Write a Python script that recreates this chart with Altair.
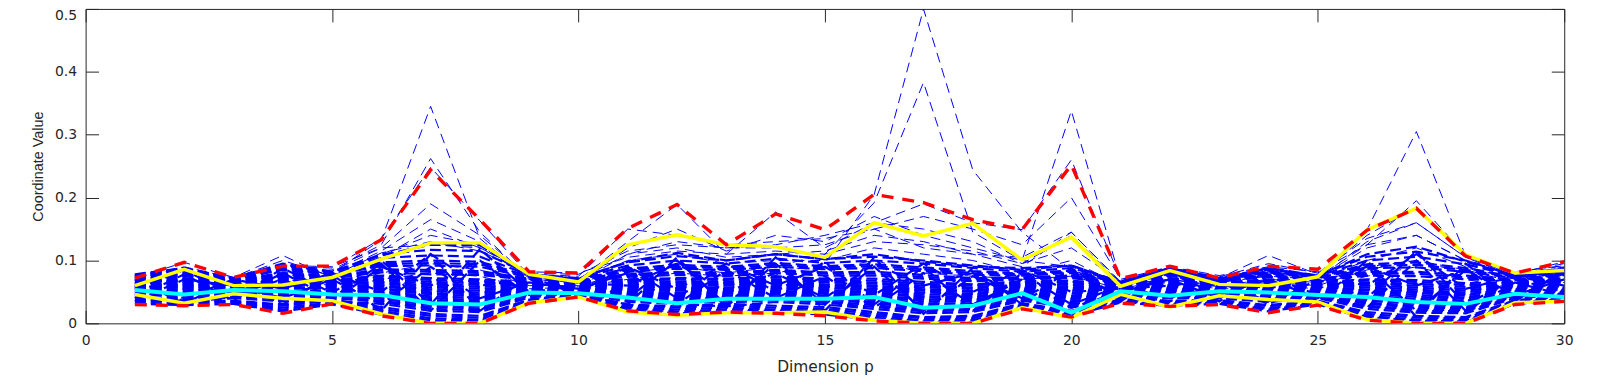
import altair as alt
import pandas as pd

dims = list(range(1, 31))

# dense core of the parallel-coordinate lines
core_lines = [
    [0.031,0.029,0.031,0.019,0.030,0.014,0.002,0.001,0.033,0.043,0.021,0.016,0.019,0.018,0.014,0.006,0.001,0.002,0.024,0.012,0.033,0.028,0.031,0.019,0.030,0.007,0.001,0.002,0.031,0.036],
    [0.033,0.031,0.032,0.022,0.032,0.017,0.005,0.004,0.034,0.044,0.024,0.019,0.022,0.020,0.017,0.009,0.003,0.005,0.026,0.014,0.034,0.030,0.033,0.022,0.032,0.010,0.004,0.003,0.033,0.038],
    [0.034,0.036,0.033,0.025,0.033,0.020,0.008,0.006,0.035,0.045,0.026,0.022,0.025,0.022,0.020,0.012,0.005,0.008,0.028,0.016,0.035,0.032,0.034,0.024,0.033,0.012,0.006,0.005,0.034,0.040],
    [0.036,0.038,0.035,0.028,0.036,0.023,0.012,0.009,0.037,0.046,0.028,0.025,0.028,0.025,0.023,0.015,0.008,0.010,0.030,0.018,0.037,0.034,0.036,0.027,0.035,0.015,0.009,0.008,0.036,0.042],
    [0.038,0.033,0.036,0.030,0.038,0.026,0.015,0.012,0.038,0.047,0.030,0.027,0.031,0.028,0.026,0.018,0.010,0.012,0.032,0.020,0.038,0.036,0.037,0.029,0.036,0.018,0.012,0.010,0.037,0.043],
    [0.041,0.040,0.040,0.035,0.035,0.031,0.020,0.018,0.041,0.049,0.034,0.031,0.027,0.034,0.030,0.023,0.016,0.018,0.036,0.025,0.041,0.040,0.040,0.034,0.040,0.023,0.017,0.016,0.040,0.045],
    [0.043,0.037,0.042,0.038,0.040,0.034,0.023,0.021,0.043,0.050,0.036,0.034,0.033,0.037,0.033,0.026,0.019,0.021,0.038,0.028,0.043,0.042,0.042,0.037,0.042,0.026,0.020,0.019,0.042,0.047],
    [0.044,0.045,0.043,0.040,0.042,0.036,0.026,0.024,0.044,0.051,0.038,0.036,0.036,0.039,0.035,0.029,0.021,0.023,0.040,0.030,0.044,0.044,0.043,0.039,0.043,0.028,0.022,0.021,0.043,0.048],
    [0.046,0.048,0.045,0.043,0.044,0.039,0.029,0.027,0.046,0.052,0.040,0.038,0.038,0.041,0.038,0.032,0.024,0.026,0.042,0.033,0.046,0.046,0.045,0.042,0.045,0.031,0.025,0.024,0.045,0.050],
    [0.047,0.042,0.047,0.045,0.046,0.041,0.031,0.029,0.047,0.053,0.042,0.040,0.040,0.043,0.040,0.034,0.027,0.028,0.044,0.035,0.047,0.048,0.046,0.044,0.046,0.033,0.028,0.026,0.046,0.051],
    [0.049,0.047,0.049,0.048,0.048,0.044,0.034,0.032,0.049,0.054,0.044,0.043,0.042,0.046,0.042,0.037,0.030,0.030,0.046,0.038,0.049,0.050,0.048,0.046,0.048,0.036,0.031,0.029,0.048,0.053],
    [0.050,0.050,0.050,0.050,0.050,0.046,0.037,0.034,0.050,0.055,0.046,0.045,0.044,0.048,0.044,0.040,0.032,0.032,0.048,0.040,0.050,0.052,0.049,0.048,0.049,0.038,0.033,0.031,0.049,0.054],
    [0.052,0.053,0.051,0.052,0.052,0.049,0.040,0.037,0.052,0.056,0.048,0.047,0.047,0.050,0.047,0.043,0.035,0.035,0.050,0.042,0.052,0.054,0.051,0.051,0.051,0.041,0.036,0.034,0.051,0.056],
    [0.053,0.055,0.052,0.047,0.053,0.051,0.043,0.040,0.053,0.057,0.050,0.049,0.049,0.052,0.049,0.045,0.038,0.037,0.052,0.044,0.053,0.056,0.052,0.053,0.052,0.044,0.039,0.036,0.052,0.057],
    [0.055,0.057,0.054,0.057,0.055,0.054,0.046,0.043,0.055,0.058,0.052,0.052,0.051,0.055,0.051,0.048,0.041,0.040,0.054,0.047,0.054,0.058,0.054,0.055,0.054,0.047,0.042,0.039,0.054,0.059],
    [0.056,0.060,0.055,0.055,0.057,0.056,0.048,0.046,0.056,0.059,0.054,0.054,0.053,0.057,0.053,0.050,0.043,0.042,0.055,0.049,0.055,0.059,0.055,0.057,0.055,0.049,0.045,0.041,0.055,0.060],
    [0.058,0.063,0.057,0.062,0.059,0.059,0.051,0.049,0.057,0.060,0.056,0.056,0.055,0.059,0.056,0.053,0.046,0.045,0.057,0.052,0.056,0.061,0.057,0.059,0.057,0.052,0.048,0.044,0.057,0.062],
    [0.059,0.058,0.058,0.060,0.060,0.061,0.054,0.052,0.058,0.061,0.058,0.058,0.057,0.061,0.058,0.055,0.049,0.047,0.058,0.054,0.057,0.062,0.058,0.061,0.058,0.054,0.051,0.046,0.058,0.063],
    [0.061,0.061,0.060,0.066,0.062,0.064,0.057,0.055,0.060,0.062,0.060,0.061,0.060,0.064,0.060,0.058,0.052,0.050,0.060,0.056,0.058,0.064,0.060,0.063,0.060,0.057,0.054,0.049,0.060,0.065],
    [0.062,0.065,0.061,0.064,0.063,0.066,0.060,0.058,0.061,0.063,0.062,0.063,0.062,0.066,0.062,0.060,0.054,0.052,0.061,0.058,0.059,0.066,0.061,0.064,0.061,0.060,0.057,0.052,0.061,0.066],
    [0.064,0.068,0.062,0.070,0.065,0.069,0.063,0.061,0.063,0.064,0.064,0.065,0.064,0.068,0.065,0.063,0.057,0.055,0.063,0.061,0.060,0.068,0.062,0.066,0.062,0.063,0.060,0.055,0.063,0.068],
    [0.065,0.070,0.063,0.068,0.066,0.071,0.066,0.064,0.064,0.064,0.066,0.067,0.066,0.070,0.067,0.065,0.060,0.057,0.064,0.063,0.061,0.069,0.063,0.067,0.063,0.065,0.063,0.058,0.064,0.069],
    [0.067,0.072,0.064,0.074,0.068,0.074,0.069,0.067,0.065,0.065,0.068,0.070,0.069,0.073,0.069,0.068,0.063,0.060,0.066,0.066,0.061,0.071,0.064,0.069,0.065,0.068,0.066,0.061,0.065,0.071],
    [0.068,0.067,0.065,0.072,0.069,0.076,0.072,0.070,0.066,0.066,0.070,0.072,0.071,0.075,0.071,0.071,0.066,0.062,0.067,0.068,0.062,0.072,0.065,0.070,0.066,0.070,0.069,0.064,0.066,0.072],
    [0.070,0.075,0.067,0.076,0.072,0.081,0.078,0.077,0.069,0.067,0.074,0.077,0.075,0.080,0.076,0.076,0.071,0.067,0.070,0.072,0.063,0.075,0.067,0.074,0.068,0.076,0.075,0.070,0.068,0.075],
    [0.071,0.077,0.068,0.078,0.073,0.084,0.082,0.080,0.070,0.068,0.076,0.080,0.078,0.083,0.079,0.079,0.074,0.070,0.072,0.074,0.064,0.077,0.068,0.076,0.069,0.079,0.079,0.073,0.069,0.077],
    [0.072,0.079,0.069,0.080,0.075,0.086,0.085,0.083,0.071,0.068,0.078,0.082,0.080,0.085,0.081,0.082,0.077,0.072,0.073,0.076,0.064,0.078,0.068,0.077,0.070,0.082,0.082,0.076,0.070,0.078],
    [0.074,0.082,0.070,0.085,0.077,0.091,0.092,0.090,0.073,0.069,0.082,0.087,0.085,0.090,0.086,0.088,0.083,0.077,0.076,0.080,0.065,0.081,0.069,0.080,0.072,0.088,0.089,0.082,0.072,0.080],
    [0.075,0.084,0.070,0.087,0.078,0.094,0.096,0.094,0.074,0.070,0.085,0.090,0.088,0.093,0.089,0.091,0.086,0.080,0.078,0.082,0.065,0.083,0.070,0.082,0.073,0.091,0.093,0.085,0.073,0.082],
    [0.076,0.085,0.071,0.089,0.079,0.097,0.100,0.098,0.075,0.070,0.087,0.093,0.090,0.096,0.091,0.094,0.089,0.083,0.079,0.084,0.066,0.084,0.070,0.083,0.074,0.094,0.097,0.088,0.074,0.083],
    [0.077,0.087,0.072,0.092,0.081,0.104,0.108,0.106,0.077,0.071,0.092,0.100,0.095,0.103,0.096,0.100,0.095,0.088,0.082,0.088,0.066,0.086,0.071,0.086,0.075,0.100,0.106,0.094,0.075,0.085],
    [0.078,0.088,0.072,0.095,0.082,0.110,0.117,0.115,0.078,0.072,0.097,0.107,0.100,0.110,0.102,0.106,0.100,0.092,0.085,0.092,0.066,0.088,0.072,0.088,0.076,0.106,0.114,0.100,0.076,0.087],
    [0.076,0.088,0.071,0.093,0.082,0.108,0.125,0.124,0.078,0.071,0.098,0.112,0.100,0.110,0.102,0.110,0.098,0.090,0.088,0.092,0.065,0.088,0.071,0.087,0.076,0.110,0.122,0.098,0.076,0.088],
    [0.040,0.078,0.036,0.088,0.048,0.100,0.030,0.118,0.050,0.060,0.090,0.040,0.095,0.050,0.098,0.030,0.090,0.020,0.080,0.030,0.060,0.040,0.068,0.030,0.070,0.040,0.115,0.030,0.070,0.050],
    [0.070,0.032,0.068,0.030,0.078,0.020,0.110,0.020,0.075,0.045,0.030,0.105,0.025,0.105,0.020,0.105,0.015,0.088,0.030,0.088,0.035,0.085,0.035,0.085,0.035,0.100,0.010,0.095,0.035,0.085],
    [0.055,0.085,0.045,0.070,0.035,0.090,0.060,0.100,0.040,0.065,0.060,0.095,0.050,0.080,0.040,0.095,0.060,0.080,0.045,0.085,0.040,0.080,0.045,0.070,0.040,0.090,0.060,0.085,0.040,0.080],
    [0.060,0.040,0.070,0.055,0.080,0.050,0.110,0.060,0.070,0.050,0.090,0.055,0.095,0.060,0.090,0.045,0.095,0.050,0.085,0.050,0.055,0.060,0.070,0.055,0.075,0.060,0.110,0.055,0.075,0.060],
    [0.035,0.070,0.060,0.040,0.070,0.030,0.090,0.040,0.065,0.055,0.080,0.030,0.085,0.040,0.075,0.025,0.080,0.030,0.070,0.025,0.050,0.070,0.040,0.075,0.045,0.025,0.100,0.020,0.065,0.045],
    [0.065,0.035,0.040,0.080,0.040,0.095,0.020,0.100,0.045,0.070,0.040,0.100,0.030,0.095,0.030,0.090,0.020,0.075,0.040,0.080,0.045,0.035,0.065,0.035,0.065,0.090,0.020,0.085,0.045,0.070],
]

# sparse lines that stick out of the core
outlier_lines = [
    [0.045,0.055,0.050,0.060,0.055,0.070,0.080,0.075,0.055,0.058,0.070,0.080,0.075,0.080,0.095,0.205,0.500,0.244,0.145,0.085,0.060,0.065,0.055,0.060,0.055,0.075,0.090,0.070,0.055,0.065],
    [0.055,0.065,0.055,0.070,0.060,0.080,0.095,0.085,0.060,0.060,0.080,0.090,0.080,0.090,0.110,0.192,0.383,0.145,0.100,0.090,0.062,0.070,0.058,0.065,0.060,0.085,0.100,0.080,0.060,0.070],
    [0.060,0.070,0.060,0.075,0.080,0.133,0.345,0.135,0.070,0.065,0.085,0.095,0.085,0.090,0.085,0.100,0.080,0.075,0.070,0.075,0.055,0.070,0.060,0.070,0.065,0.090,0.100,0.085,0.065,0.075],
    [0.065,0.075,0.065,0.080,0.085,0.125,0.262,0.145,0.072,0.068,0.100,0.110,0.095,0.100,0.100,0.120,0.110,0.100,0.080,0.100,0.060,0.078,0.065,0.075,0.070,0.100,0.120,0.090,0.070,0.080],
    [0.070,0.080,0.068,0.090,0.088,0.135,0.248,0.163,0.076,0.070,0.110,0.120,0.105,0.110,0.115,0.140,0.130,0.110,0.090,0.145,0.065,0.085,0.068,0.080,0.072,0.120,0.140,0.100,0.072,0.085],
    [0.068,0.078,0.070,0.085,0.083,0.120,0.190,0.140,0.074,0.069,0.130,0.189,0.110,0.177,0.120,0.160,0.150,0.130,0.095,0.140,0.063,0.080,0.066,0.078,0.070,0.130,0.160,0.105,0.074,0.082],
    [0.062,0.072,0.066,0.082,0.079,0.115,0.165,0.130,0.072,0.066,0.120,0.150,0.115,0.140,0.130,0.170,0.140,0.120,0.100,0.338,0.068,0.082,0.070,0.082,0.074,0.125,0.195,0.108,0.075,0.090],
    [0.058,0.068,0.062,0.078,0.075,0.110,0.140,0.125,0.070,0.066,0.110,0.130,0.120,0.125,0.140,0.160,0.190,0.160,0.149,0.260,0.070,0.086,0.067,0.085,0.076,0.140,0.185,0.106,0.078,0.092],
    [0.072,0.097,0.073,0.108,0.072,0.105,0.150,0.120,0.078,0.075,0.150,0.140,0.125,0.130,0.135,0.150,0.170,0.150,0.125,0.200,0.070,0.090,0.072,0.108,0.078,0.149,0.305,0.107,0.078,0.098],
    [0.070,0.090,0.072,0.100,0.075,0.112,0.130,0.115,0.080,0.078,0.115,0.125,0.120,0.120,0.125,0.150,0.120,0.110,0.105,0.145,0.066,0.088,0.074,0.095,0.080,0.135,0.160,0.105,0.080,0.095],
    [0.075,0.085,0.070,0.092,0.090,0.120,0.125,0.120,0.082,0.080,0.105,0.115,0.110,0.115,0.110,0.130,0.125,0.115,0.095,0.120,0.067,0.090,0.076,0.090,0.082,0.125,0.140,0.100,0.082,0.092],
]

red_upper = [0.072,0.097,0.073,0.091,0.091,0.133,0.244,0.165,0.082,0.080,0.151,0.189,0.125,0.174,0.149,0.205,0.192,0.165,0.149,0.252,0.071,0.091,0.072,0.091,0.086,0.148,0.183,0.107,0.080,0.098]
red_lower = [0.030,0.028,0.030,0.016,0.031,0.012,0.000,0.000,0.032,0.042,0.020,0.014,0.018,0.016,0.012,0.004,0.000,0.000,0.023,0.010,0.032,0.027,0.030,0.017,0.029,0.005,0.000,0.000,0.030,0.035]
yellow_upper = [0.060,0.086,0.060,0.061,0.073,0.102,0.128,0.128,0.078,0.066,0.125,0.141,0.125,0.122,0.105,0.160,0.139,0.159,0.101,0.137,0.059,0.084,0.062,0.060,0.074,0.149,0.183,0.109,0.080,0.084]
yellow_lower = [0.046,0.032,0.047,0.040,0.036,0.015,0.000,0.000,0.033,0.042,0.018,0.013,0.017,0.017,0.018,0.005,0.000,0.000,0.025,0.009,0.046,0.026,0.044,0.038,0.034,0.006,0.000,0.000,0.033,0.035]
cyan_mean = [0.053,0.046,0.053,0.051,0.046,0.045,0.032,0.030,0.049,0.048,0.041,0.032,0.039,0.039,0.039,0.042,0.025,0.028,0.048,0.017,0.051,0.044,0.051,0.049,0.045,0.042,0.034,0.031,0.047,0.042]

x_ticks = [0, 5, 10, 15, 20, 25, 30]
y_ticks = [0, 0.1, 0.2, 0.3, 0.4, 0.5]


def to_long(lines, prefix):
    rows = []
    for i, vals in enumerate(lines):
        for d, v in zip(dims, vals):
            rows.append({"dim": d, "value": v, "line": f"{prefix}{i:02d}"})
    return pd.DataFrame(rows)


core_df = to_long(core_lines, "c")
out_df = to_long(outlier_lines, "o")
stats_df = pd.DataFrame({
    "dim": dims,
    "red_upper": red_upper,
    "red_lower": red_lower,
    "yellow_upper": yellow_upper,
    "yellow_lower": yellow_lower,
    "mean": cyan_mean,
})

AX = "#262626"
LFONT = "DejaVu Sans"
TFONT = "Liberation Sans"
TICK = 13

xscale = alt.Scale(domain=[0, 30], nice=False, zero=False)
yscale = alt.Scale(domain=[0, 0.5], nice=False, zero=False)

x_main = alt.X("dim:Q", scale=xscale, axis=alt.Axis(
    orient="bottom", values=x_ticks, title="Dimension p", offset=-TICK, tickSize=TICK,
    domain=False, grid=False, labelPadding=10, labelFontSize=14, labelFont=LFONT,
    labelColor=AX, tickColor=AX, titleFont=LFONT, titleFontSize=15.5, titleColor=AX,
    titleFontWeight="normal", titlePadding=12, labelFlush=False))
y_main = alt.Y("value:Q", scale=yscale, axis=alt.Axis(
    orient="left", values=y_ticks, format="~g", title="Coordinate Value",
    offset=-TICK, tickSize=TICK, domain=False, grid=False, labelPadding=9,
    labelFontSize=14, labelFont=LFONT, labelColor=AX, tickColor=AX,
    labelBaseline=alt.condition("datum.value >= 0.5", alt.value("top"), alt.value("middle")),
    titleFont=TFONT, titleFontSize=14.5, titleColor=AX,
    titleFontWeight="normal", titlePadding=9, labelFlush=False))

x_top = alt.X("dim:Q", scale=xscale, axis=alt.Axis(
    orient="top", values=x_ticks, title=None, offset=-TICK, tickSize=TICK,
    domain=False, grid=False, labels=False, tickColor=AX))

x_none = alt.X("dim:Q", scale=xscale, axis=None)


def y_none(field):
    return alt.Y(f"{field}:Q", scale=yscale, axis=None)


core = alt.Chart(core_df).mark_line(
    color="#0000FF", strokeWidth=2.2, strokeDash=[11, 5], clip=True
).encode(x=x_main, y=y_main, detail="line:N", order="dim:Q")

outl = alt.Chart(out_df).mark_line(
    color="#0000FF", strokeWidth=1.0, strokeDash=[10, 6], clip=True
).encode(x=x_none, y=y_none("value"), detail="line:N", order="dim:Q")

base = alt.Chart(stats_df)

yel_u = base.mark_line(color="#FFFF00", strokeWidth=3.5, clip=True).encode(
    x=x_none, y=y_none("yellow_upper"))
yel_l = base.mark_line(color="#FFFF00", strokeWidth=3.5, clip=True).encode(
    x=x_none, y=y_none("yellow_lower"))
red_u = base.mark_line(color="#FF0000", strokeWidth=3.4, strokeDash=[12, 9], clip=True).encode(
    x=x_none, y=y_none("red_upper"))
red_l = base.mark_line(color="#FF0000", strokeWidth=3.4, strokeDash=[12, 9], clip=True).encode(
    x=x_none, y=y_none("red_lower"))
mean = base.mark_line(color="#00FFFF", strokeWidth=4, clip=True).encode(
    x=x_top,
    y=alt.Y("mean:Q", scale=yscale, axis=alt.Axis(
        orient="right", values=y_ticks, title=None, offset=-TICK, tickSize=TICK,
        domain=False, grid=False, labels=False, tickColor=AX)))

chart = alt.layer(core, outl, yel_u, yel_l, red_u, red_l, mean).resolve_axis(
    x="independent", y="independent"
).properties(
    width=1486, height=316,
    autosize=alt.AutoSizeParams(type="none"),
    padding={"left": 78, "top": 0, "right": 45, "bottom": 59},
    background="white",
).configure_view(stroke=AX, strokeWidth=1)

chart.save("out.html", embed_options={"renderer": "svg", "actions": False})
